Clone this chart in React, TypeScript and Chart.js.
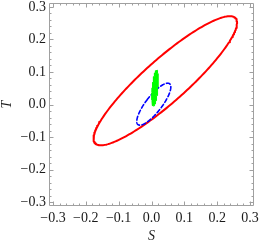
import React, { useEffect, useRef } from "react";
import { Chart, registerables } from "chart.js";

Chart.register(...registerables);

// Axis range and ticks
const axisMin = -0.312;
const axisMax = 0.312;
const majorTicks = [-0.3, -0.2, -0.1, 0.0, 0.1, 0.2, 0.3];
const minorTicks = [
  -0.32, -0.28, -0.26, -0.24, -0.22, -0.18, -0.16, -0.14, -0.12, -0.08, -0.06, -0.04, -0.02,
  0.02, 0.04, 0.06, 0.08, 0.12, 0.14, 0.16, 0.18, 0.22, 0.24, 0.26, 0.28, 0.32,
];
const xTitle = "S";
const yTitle = "T";

// Ellipses: center, semi-axes, tilt of the major axis
const seriesNames = ["red ellipse", "blue dashed ellipse", "green region"];
const centerS = [0.042, 0.007, 0.011];
const centerT = [0.073, 0.001, 0.0505];
const semiMajor = [0.2877, 0.0791, 0.0555];
const semiMinor = [0.066, 0.0244, 0.0085];
const tiltDeg = [41.95, 52.6, 85];

const colors = ["#ff0000", "#0000ff", "#00ff00"];

function ellipsePoints(k: number) {
  const n = 240;
  const th = (tiltDeg[k] * Math.PI) / 180;
  const pts: { x: number; y: number }[] = [];
  for (let i = 0; i <= n; i++) {
    const t = Math.PI / 2 + (2 * Math.PI * i) / n;
    const a = semiMajor[k] * Math.cos(t);
    const b = semiMinor[k] * Math.sin(t);
    pts.push({
      x: centerS[k] + a * Math.cos(th) - b * Math.sin(th),
      y: centerT[k] + a * Math.sin(th) + b * Math.cos(th),
    });
  }
  return pts;
}

const fmt = (v: number) => {
  const s = Math.abs(v).toFixed(1);
  return v < -1e-9 ? "\u2212" + s : s;
};

const framePlugin = {
  id: "frameTicks",
  afterDatasetsDraw(chart: any) {
    const { ctx, chartArea, scales } = chart;
    const { left, right, top, bottom } = chartArea;
    const xs = scales.x;
    const ys = scales.y;
    ctx.save();
    ctx.strokeStyle = "#a0a0a0";
    ctx.lineWidth = 1;
    ctx.beginPath();
    ctx.rect(left + 0.5, top + 0.5, right - left - 1, bottom - top - 1);
    ctx.stroke();
    const draw = (vals: number[], len: number) => {
      ctx.beginPath();
      for (const v of vals) {
        const px = Math.round(xs.getPixelForValue(v)) + 0.5;
        if (px > left && px < right) {
          ctx.moveTo(px, bottom);
          ctx.lineTo(px, bottom - len);
          ctx.moveTo(px, top);
          ctx.lineTo(px, top + len);
        }
        const py = Math.round(ys.getPixelForValue(v)) + 0.5;
        if (py > top && py < bottom) {
          ctx.moveTo(left, py);
          ctx.lineTo(left + len, py);
          ctx.moveTo(right, py);
          ctx.lineTo(right - len, py);
        }
      }
      ctx.stroke();
    };
    draw(majorTicks, 4.5);
    draw(minorTicks, 2.5);
    ctx.restore();
  },
};

export default function App() {
  const ref = useRef<HTMLCanvasElement>(null);
  useEffect(() => {
    if (!ref.current) return;
    const datasets: any[] = seriesNames.map((name, k) => ({
      label: name,
      data: ellipsePoints(k),
      showLine: true,
      pointRadius: 0,
      borderColor: colors[k],
      backgroundColor: colors[k],
      borderWidth: k === 0 ? 2 : k === 1 ? 1.6 : 1,
      borderDash: k === 1 ? [4, 2.5] : [],
      borderJoinStyle: "round",
      borderCapStyle: "round",
      fill: k === 2 ? "shape" : false,
      tension: 0,
      order: 2 - k,
    }));
    const tickFont = { family: "'Liberation Serif', serif", size: 14 };
    const titleFont = { family: "'Liberation Serif', serif", size: 14, style: "italic" as const, lineHeight: 1 };
    const chart = new Chart(ref.current, {
      type: "scatter",
      data: { datasets },
      plugins: [framePlugin],
      options: {
        animation: false,
        responsive: false,
        layout: { padding: { left: 0, top: 3, right: 5, bottom: 0 } },
        plugins: { legend: { display: false }, tooltip: { enabled: false } },
        scales: {
          x: {
            type: "linear",
            min: axisMin,
            max: axisMax,
            grid: { display: false, drawTicks: false },
            border: { display: false },
            afterBuildTicks: (s: any) => {
              s.ticks = majorTicks.map((v) => ({ value: v }));
            },
            afterFit: (s: any) => {
              s.height = 37;
              s.paddingLeft = 0;
              s.paddingRight = 0;
            },
            ticks: {
              autoSkip: false,
              maxRotation: 0,
              padding: 4,
              color: "#1a1a1a",
              font: tickFont,
              callback: (v: any) => fmt(Number(v)),
            },
            title: { display: true, text: xTitle, font: titleFont, color: "#1a1a1a", padding: { top: 0, bottom: 0 } },
          },
          y: {
            type: "linear",
            min: axisMin,
            max: axisMax,
            grid: { display: false, drawTicks: false },
            border: { display: false },
            afterBuildTicks: (s: any) => {
              s.ticks = majorTicks.map((v) => ({ value: v }));
            },
            afterFit: (s: any) => {
              s.width = 49;
              s.paddingTop = 0;
              s.paddingBottom = 0;
            },
            ticks: {
              autoSkip: false,
              padding: 3,
              color: "#1a1a1a",
              font: tickFont,
              callback: (v: any) => fmt(Number(v)),
            },
            title: { display: true, text: yTitle, font: titleFont, color: "#1a1a1a", padding: { top: 0, bottom: 0 } },
          },
        },
      },
    });
    return () => chart.destroy();
  }, []);
  return (
    <div style={{ position: "fixed", left: 0, top: 0, width: 259, height: 243, background: "#fff" }}>
      <canvas ref={ref} width={259} height={243} style={{ display: "block" }} />
    </div>
  );
}
